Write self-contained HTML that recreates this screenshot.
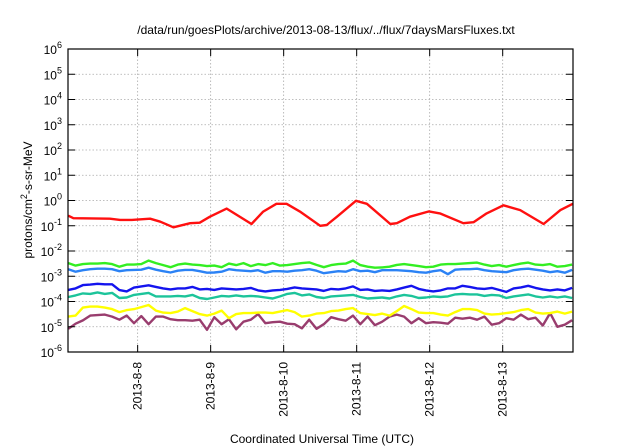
<!DOCTYPE html>
<html><head><meta charset="utf-8"><style>
body{margin:0;background:#fff;}
svg{display:block;font-family:"Liberation Sans",sans-serif;}
</style></head><body>
<svg id="chart" width="640" height="448" viewBox="0 0 640 448">
<text x="326" y="34" text-anchor="middle" font-size="12">/data/run/goesPlots/archive/2013-08-13/flux/../flux/7daysMarsFluxes.txt</text>
<text x="322" y="443" text-anchor="middle" font-size="12">Coordinated Universal Time (UTC)</text>
<text transform="translate(32,200) rotate(-90)" text-anchor="middle" font-size="12">protons/cm<tspan dy="-5" font-size="9">2</tspan><tspan dy="5">-s-sr-MeV</tspan></text>
<g id="grid"></g><g id="series"></g><g id="axes"></g>
</svg>
<script>
const xTickDays=[8,9,10,11,12,13];
const xTickLabels=["2013-8-8","2013-8-9","2013-8-10","2013-8-11","2013-8-12","2013-8-13"];
const yTickExps=[-6,-5,-4,-3,-2,-1,0,1,2,3,4,5,6];
const redTimes=[7.05,7.12,7.62,7.76,7.92,8.17,8.31,8.49,8.72,8.85,8.99,9.22,9.56,9.72,9.90,10.04,10.22,10.50,10.59,10.73,10.99,11.14,11.46,11.55,11.73,11.99,12.14,12.46,12.60,12.78,13.01,13.24,13.56,13.79,13.96];
const redLog=[-0.60,-0.70,-0.72,-0.77,-0.77,-0.72,-0.84,-1.06,-0.90,-0.88,-0.64,-0.32,-0.93,-0.44,-0.13,-0.13,-0.43,-1.0,-0.97,-0.64,-0.01,-0.13,-0.93,-0.90,-0.64,-0.43,-0.51,-0.90,-0.86,-0.51,-0.19,-0.38,-0.93,-0.38,-0.13];
const seriesStart=7.05, seriesStep=0.1;
const greenLog=[-2.48,-2.58,-2.52,-2.50,-2.50,-2.48,-2.52,-2.62,-2.54,-2.54,-2.52,-2.38,-2.48,-2.56,-2.64,-2.54,-2.50,-2.54,-2.56,-2.60,-2.58,-2.64,-2.50,-2.56,-2.48,-2.60,-2.52,-2.56,-2.48,-2.58,-2.56,-2.52,-2.48,-2.45,-2.55,-2.64,-2.56,-2.52,-2.50,-2.38,-2.56,-2.62,-2.66,-2.65,-2.62,-2.55,-2.52,-2.56,-2.60,-2.64,-2.62,-2.54,-2.52,-2.52,-2.50,-2.48,-2.46,-2.54,-2.60,-2.56,-2.62,-2.56,-2.50,-2.46,-2.54,-2.56,-2.52,-2.62,-2.60,-2.54];
const lightBlueLog=[-2.72,-2.82,-2.76,-2.72,-2.70,-2.70,-2.72,-2.80,-2.76,-2.75,-2.74,-2.66,-2.74,-2.80,-2.85,-2.78,-2.75,-2.75,-2.80,-2.86,-2.85,-2.82,-2.72,-2.76,-2.78,-2.80,-2.76,-2.86,-2.80,-2.80,-2.82,-2.78,-2.76,-2.72,-2.78,-2.88,-2.84,-2.80,-2.82,-2.72,-2.80,-2.78,-2.84,-2.76,-2.76,-2.76,-2.78,-2.80,-2.84,-2.86,-2.80,-2.76,-2.92,-2.74,-2.72,-2.72,-2.70,-2.76,-2.80,-2.82,-2.84,-2.76,-2.72,-2.70,-2.74,-2.78,-2.84,-2.80,-2.86,-2.75];
const blueLog=[-3.54,-3.48,-3.35,-3.33,-3.30,-3.32,-3.32,-3.55,-3.60,-3.45,-3.40,-3.36,-3.42,-3.48,-3.52,-3.48,-3.48,-3.42,-3.52,-3.50,-3.54,-3.48,-3.50,-3.52,-3.50,-3.46,-3.56,-3.60,-3.56,-3.54,-3.50,-3.44,-3.48,-3.50,-3.52,-3.58,-3.50,-3.52,-3.48,-3.40,-3.54,-3.52,-3.58,-3.56,-3.58,-3.52,-3.45,-3.38,-3.50,-3.56,-3.60,-3.56,-3.48,-3.48,-3.38,-3.42,-3.48,-3.50,-3.46,-3.54,-3.62,-3.48,-3.44,-3.38,-3.46,-3.52,-3.56,-3.52,-3.56,-3.46];
const tealLog=[-3.82,-3.76,-3.68,-3.70,-3.64,-3.70,-3.66,-3.86,-3.84,-3.74,-3.70,-3.66,-3.80,-3.80,-3.80,-3.78,-3.80,-3.74,-3.86,-3.90,-3.84,-3.78,-3.80,-3.76,-3.80,-3.78,-3.80,-3.84,-3.88,-3.80,-3.70,-3.66,-3.76,-3.72,-3.82,-3.86,-3.80,-3.78,-3.76,-3.74,-3.82,-3.88,-3.86,-3.84,-3.88,-3.80,-3.74,-3.78,-3.86,-3.84,-3.80,-3.82,-3.80,-3.72,-3.70,-3.72,-3.72,-3.78,-3.74,-3.76,-3.86,-3.80,-3.76,-3.72,-3.80,-3.84,-3.80,-3.84,-3.80,-3.86];
const yellowLog=[-4.60,-4.56,-4.24,-4.20,-4.20,-4.24,-4.30,-4.42,-4.34,-4.30,-4.22,-4.14,-4.36,-4.44,-4.46,-4.40,-4.26,-4.38,-4.50,-4.56,-4.48,-4.36,-4.66,-4.50,-4.46,-4.46,-4.44,-4.44,-4.46,-4.40,-4.34,-4.42,-4.60,-4.56,-4.48,-4.46,-4.38,-4.36,-4.30,-4.26,-4.46,-4.50,-4.54,-4.48,-4.56,-4.38,-4.18,-4.30,-4.44,-4.46,-4.46,-4.52,-4.56,-4.42,-4.30,-4.30,-4.34,-4.48,-4.52,-4.50,-4.46,-4.42,-4.34,-4.30,-4.44,-4.48,-4.46,-4.40,-4.48,-4.40];
const purpleLog=[-5.08,-4.88,-4.75,-4.56,-4.54,-4.52,-4.60,-4.72,-4.56,-4.86,-4.58,-4.90,-4.60,-4.60,-4.70,-4.74,-4.74,-4.76,-4.72,-5.12,-4.62,-4.90,-4.70,-5.10,-4.80,-4.72,-4.50,-4.86,-4.82,-4.80,-4.88,-4.90,-5.06,-4.72,-5.08,-4.90,-4.62,-4.70,-4.76,-4.56,-4.90,-4.60,-4.94,-4.80,-4.60,-4.52,-4.60,-4.86,-4.66,-4.86,-4.82,-4.84,-4.88,-4.64,-4.68,-4.64,-4.72,-4.60,-4.92,-4.86,-4.66,-4.72,-4.52,-4.70,-4.64,-4.95,-4.46,-5.00,-4.92,-4.74];

const L=68,R=573,T=49,B=352;
const xMin=7.046,xMax=13.963;
const X=d=>L+(d-xMin)/(xMax-xMin)*(R-L);
const Y=e=>B-(e+6)/12*(B-T);
const NS="http://www.w3.org/2000/svg";
function mk(tag,attrs,parent){const e=document.createElementNS(NS,tag);for(const k in attrs)e.setAttribute(k,attrs[k]);parent.appendChild(e);return e;}
const grid=document.getElementById('grid'),axes=document.getElementById('axes'),ser=document.getElementById('series');
yTickExps.forEach(e=>{
  const y=Y(e);
  if(e>-6&&e<6){const g=mk('line',{x1:L,x2:R,y1:y,y2:y,stroke:'#aaa','stroke-width':0.8,'stroke-dasharray':'1.5,2'},grid);
  
  }
  const t1=mk('line',{x1:L,x2:L+7,y1:y,y2:y,stroke:'#000','stroke-width':1},axes);
  
  
  const t2=mk('line',{x1:R-7,x2:R,y1:y,y2:y,stroke:'#000','stroke-width':1},axes);
  
  
  const tx=mk('text',{x:L-6,y:y+5,'text-anchor':'end','font-size':12},axes);
  
  
  tx.innerHTML='10<tspan dy="-6" font-size="9">'+e+'</tspan>';
});
xTickDays.forEach((d,i)=>{
  const x=X(d);
  const g=mk('line',{x1:x,x2:x,y1:T,y2:B,stroke:'#aaa','stroke-width':0.8,'stroke-dasharray':'1.5,2'},grid);
  
  
  const t1=mk('line',{x1:x,x2:x,y1:B-7,y2:B,stroke:'#000','stroke-width':1},axes);
  
  
  const t2=mk('line',{x1:x,x2:x,y1:T,y2:T+7,stroke:'#000','stroke-width':1},axes);
  
  
  const tx=mk('text',{transform:'translate('+(x+4)+','+(B+10)+') rotate(-90)','text-anchor':'end','font-size':12},axes);
  
  
  tx.textContent=xTickLabels[i];
});
const frame=mk('rect',{x:L,y:T,width:R-L,height:B-T,fill:'none',stroke:'#000','stroke-width':1.2},axes);


function drawLine(times,vals,color,name){
  const pts=vals.map((v,i)=>X(times[i]).toFixed(1)+','+Y(v).toFixed(1)).join(' ');
  const p=mk('polyline',{points:pts,fill:'none',stroke:color,'stroke-width':2.4,'stroke-linejoin':'round'},ser);
  
  
}
const seriesTimes=greenLog.map((_,i)=>seriesStart+i*seriesStep);
drawLine(seriesTimes,purpleLog,'#993d6e','series-purple');
drawLine(seriesTimes,yellowLog,'#ffff00','series-yellow');
drawLine(seriesTimes,tealLog,'#1cc49a','series-teal');
drawLine(seriesTimes,blueLog,'#1414ee','series-blue');
drawLine(seriesTimes,lightBlueLog,'#2b82f5','series-light-blue');
drawLine(seriesTimes,greenLog,'#33ee22','series-green');
drawLine(redTimes,redLog,'#ff1010','series-red');
</script>
</body></html>
